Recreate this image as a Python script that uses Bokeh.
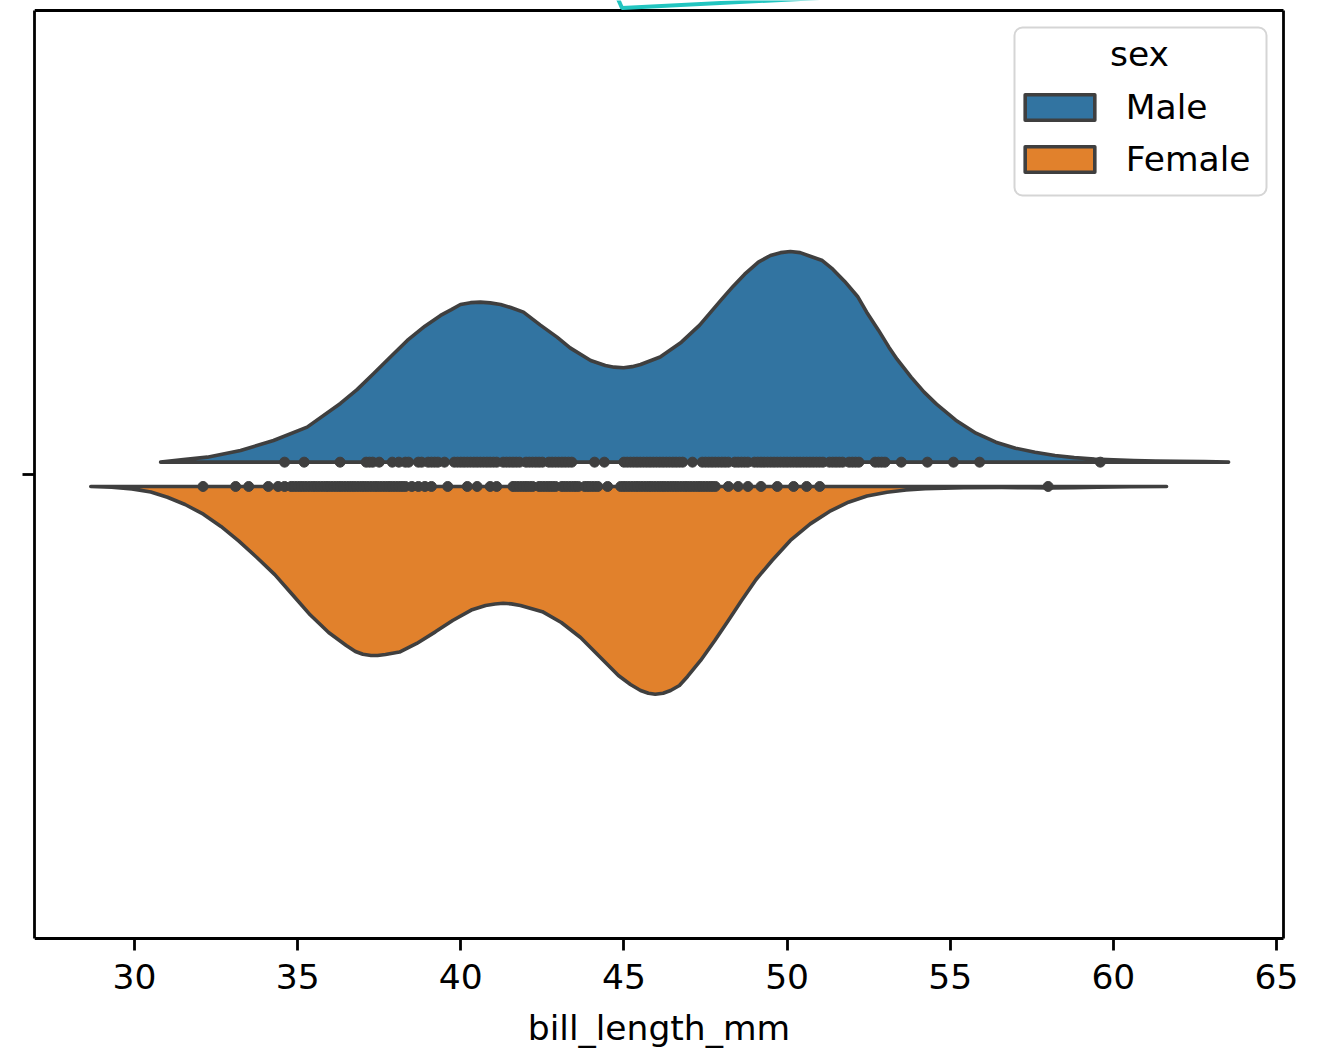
from bokeh.plotting import figure
from bokeh.models import (Range1d, FixedTicker, Legend, LegendItem, PolyAnnotation,
                          LinearAxis, BoxAnnotation, Label)
from bokeh.embed import file_html
from bokeh.resources import INLINE

# ---- data ----
categories = ["Male", "Female"]
legend_title = "sex"
x_label = "bill_length_mm"
x_ticks = [30, 35, 40, 45, 50, 55, 60, 65]
x_tick_labels = ["30", "35", "40", "45", "50", "55", "60", "65"]

# KDE outline of each half violin: positions (mm) and relative density (px-scaled)
male_kde_x = [30.80, 31.50, 32.23, 33.25, 34.26, 35.29, 36.31, 36.82, 37.33, 37.85,
              38.36, 38.90, 39.38, 39.71, 39.99, 40.30, 40.60, 40.90, 41.22, 41.53,
              41.92, 42.44, 42.95, 43.35, 43.98, 44.43, 44.70, 44.99, 45.25, 45.51,
              46.11, 46.76, 47.32, 47.66, 48.00, 48.35, 48.70, 49.12, 49.49, 49.80,
              50.10, 50.40, 50.73, 51.08, 51.40, 51.76, 52.16, 52.44, 52.80, 53.12,
              53.37, 53.80, 54.20, 54.58, 55.17, 55.79, 56.40, 57.00, 57.60, 58.21,
              58.80, 59.42, 60.00, 60.63, 61.30, 62.00, 62.80, 63.53]
male_kde_d = [0.0, 2.5, 5.0, 11.7, 21.7, 35.0, 58.7, 72.5, 88.7, 105.5,
              121.7, 136.0, 146.7, 152.5, 157.7, 159.5, 160.0, 159.3, 157.7, 154.6,
              150.0, 137.0, 125.0, 114.3, 101.7, 96.7, 95.0, 94.4, 95.5, 97.7,
              105.2, 120.0, 137.0, 150.0, 163.0, 176.0, 188.0, 200.0, 206.7, 209.5,
              210.7, 209.5, 205.7, 201.6, 193.0, 181.0, 165.7, 150.0, 132.0, 115.0,
              103.0, 85.0, 70.0, 58.0, 42.0, 29.0, 20.0, 14.0, 10.0, 6.7,
              4.5, 3.1, 2.3, 1.7, 1.2, 0.9, 0.5, 0.0]

female_kde_x = [28.66, 29.30, 29.92, 30.50, 31.01, 31.55, 32.11, 32.65, 33.20, 33.75,
                34.30, 34.85, 35.39, 35.95, 36.49, 36.77, 37.00, 37.25, 37.45, 37.69,
                38.12, 38.65, 39.22, 39.75, 40.32, 40.76, 41.05, 41.30, 41.55, 41.83,
                42.50, 43.08, 43.67, 44.25, 44.83, 45.20, 45.51, 45.75, 45.96, 46.20,
                46.43, 46.70, 46.95, 47.35, 47.78, 48.20, 48.60, 49.05, 49.54, 50.10,
                50.71, 51.30, 51.88, 52.45, 53.06, 53.65, 54.23, 55.41, 56.58, 57.40,
                58.10, 58.80, 59.51, 60.50, 61.63]
female_kde_d = [0.0, 0.8, 2.4, 5.5, 10.8, 18.0, 27.7, 40.0, 54.6, 71.0,
                88.2, 108.5, 128.6, 146.0, 159.0, 165.0, 167.8, 169.0, 169.0, 168.0,
                165.6, 157.0, 145.4, 134.0, 123.6, 119.0, 117.6, 116.8, 117.4, 119.0,
                125.2, 136.0, 151.0, 170.0, 189.0, 198.0, 204.0, 206.8, 207.8, 206.8,
                204.0, 199.0, 190.0, 174.0, 154.3, 134.0, 114.2, 93.0, 74.0, 54.0,
                37.4, 25.0, 15.7, 9.5, 5.7, 3.6, 2.3, 1.3, 1.0, 1.2,
                1.5, 1.2, 0.7, 0.3, 0.0]

# individual observations (inner="point")
male_obs = [34.6, 35.2, 36.3,
            37.1, 37.2, 37.3, 37.5, 37.9, 38.1, 38.3, 38.4, 38.7, 38.8, 39.0, 39.1,
            39.2, 39.3, 39.5, 39.8, 39.9, 40.0, 40.1, 40.2, 40.3, 40.4, 40.5, 40.6,
            40.7, 40.8, 40.9, 41.0, 41.1, 41.3, 41.4, 41.5, 41.6, 41.7, 41.8, 42.0,
            42.1, 42.2, 42.3, 42.4, 42.5, 42.7, 42.8, 42.9, 43.0, 43.1, 43.2, 43.3, 43.4,
            44.1, 44.4,
            45.0, 45.1, 45.2, 45.3, 45.4, 45.5, 45.6, 45.7, 45.8, 45.9, 46.0, 46.1,
            46.2, 46.3, 46.4, 46.5, 46.6, 46.7, 46.8,
            47.1,
            47.4, 47.5, 47.6, 47.7, 47.8, 47.9, 48.0, 48.1, 48.2, 48.4, 48.5, 48.6,
            48.7, 48.8, 49.0, 49.1, 49.2, 49.3, 49.4, 49.5, 49.6, 49.7, 49.8, 49.9,
            50.0, 50.1, 50.2, 50.3, 50.4, 50.5, 50.6, 50.7, 50.8, 50.9, 51.0, 51.1,
            51.3, 51.4, 51.5, 51.6, 51.7, 51.9, 52.0, 52.1, 52.2, 52.7, 52.8, 52.9, 53.0,
            53.5, 54.3, 55.1, 55.9, 59.6]
female_obs = [32.1, 33.1, 33.5, 34.1, 34.4, 34.6,
              34.8, 34.9, 35.0, 35.1, 35.2, 35.3, 35.4, 35.5, 35.6, 35.7, 35.8, 35.9,
              36.0, 36.1, 36.2, 36.3, 36.4, 36.5, 36.6, 36.7, 36.8, 36.9, 37.0, 37.1,
              37.2, 37.3, 37.4, 37.5, 37.6, 37.7, 37.8, 37.9, 38.0, 38.1, 38.2, 38.3, 38.5,
              38.7, 38.9, 39.1, 39.6, 40.2, 40.5, 40.9, 41.1,
              41.6, 41.7, 41.8, 41.9, 42.0, 42.1, 42.2, 42.4, 42.5, 42.6, 42.7, 42.8,
              42.9, 43.1, 43.2, 43.3, 43.4, 43.5, 43.6, 43.8, 43.9, 44.0, 44.1, 44.2,
              44.5,
              44.9, 45.0, 45.1, 45.2, 45.3, 45.4, 45.5, 45.6, 45.7, 45.8, 45.9, 46.0,
              46.1, 46.2, 46.3, 46.4, 46.5, 46.6, 46.7, 46.8, 46.9, 47.0, 47.1, 47.2,
              47.3, 47.4, 47.5, 47.6, 47.7, 47.8,
              48.2, 48.5, 48.8, 49.2, 49.7, 50.2, 50.6, 51.0, 58.0]

# ---- styling / layout ----
FONT = "DejaVu Sans"
FS = "34.5px"
EDGE = "#3f3f3f"
COLORS = {"Male": "#3274a1", "Female": "#e1812c"}
PX_Y = 1.0 / 928.0          # one pixel in category units
PX_X = 1.0 / 32.629         # one pixel in mm
D_SCALE = PX_Y              # density -> category units
MALE_OFF = 0.0133
FEMALE_OFF = -0.0129
CANVAS_W, CANVAS_H = 1330, 1051
LEFT_PX, RIGHT_PX, TOP_PX, BOTTOM_PX = 34, 1283, 10, 938   # axes box on the canvas
X_LEFT = 26.935
X_RIGHT = X_LEFT + (RIGHT_PX - LEFT_PX) * PX_X
# the plotting frame covers the canvas beyond the axes box, so that ticks,
# labels and the clipped stroke at the top are not cut off
Y0 = -0.5 - (CANVAS_H - BOTTOM_PX) * PX_Y
Y1 = 0.5 + TOP_PX * PX_Y
X1 = X_LEFT + (CANVAS_W - LEFT_PX) * PX_X

p = figure(width=CANVAS_W, height=CANVAS_H,
           x_range=Range1d(X_LEFT, X1), y_range=Range1d(Y0, Y1),
           output_backend="svg", toolbar_location=None,
           min_border_left=LEFT_PX, min_border_right=0, min_border_top=0, min_border_bottom=0)
p.background_fill_color = "white"
p.border_fill_color = "white"
p.outline_line_color = None
p.xgrid.visible = False
p.ygrid.visible = False

# male half (above its center line)
mx = male_kde_x + male_kde_x[::-1]
my = [MALE_OFF + d * D_SCALE for d in male_kde_d] + [MALE_OFF] * len(male_kde_x)
r_male = p.patch(mx, my, fill_color=COLORS["Male"], line_color=EDGE, line_width=3.6,
                 line_join="round")

# female half (below its center line)
fx = female_kde_x + female_kde_x[::-1]
fy = [FEMALE_OFF - d * D_SCALE for d in female_kde_d] + [FEMALE_OFF] * len(female_kde_x)
r_female = p.patch(fx, fy, fill_color=COLORS["Female"], line_color=EDGE, line_width=3.6,
                   line_join="round")

p.scatter(male_obs, [MALE_OFF] * len(male_obs), size=10, color=EDGE)
p.scatter(female_obs, [FEMALE_OFF] * len(female_obs), size=10, color=EDGE)

# axes / spines
xa = p.xaxis[0]
ya = p.yaxis[0]
xa.ticker = FixedTicker(ticks=x_ticks)
xa.major_label_overrides = {t: l for t, l in zip(x_ticks, x_tick_labels)}
xa.axis_label = x_label
xa.fixed_location = -0.5
xa.bounds = (X_LEFT, X_RIGHT)
ya.ticker = FixedTicker(ticks=[0])
ya.major_label_overrides = {0: ""}
ya.bounds = (-0.5, 0.5)
for ax in (xa, ya):
    ax.axis_line_color = "black"
    ax.axis_line_width = 2.8
    ax.major_tick_line_width = 2.8
    ax.major_tick_line_color = "black"
    ax.major_tick_out = 12
    ax.major_tick_in = 0
    ax.minor_tick_line_color = None
    ax.major_label_text_font = FONT
    ax.major_label_text_font_size = FS
    ax.major_label_text_color = "black"
    ax.axis_label_text_font = FONT
    ax.axis_label_text_font_size = FS
    ax.axis_label_text_font_style = "normal"
    ax.axis_label_text_color = "black"
xa.major_label_standoff = 13
xa.axis_label_standoff = 16
ya.major_label_standoff = 0

right_spine = LinearAxis(ticker=FixedTicker(ticks=[]), bounds=(-0.5, 0.5),
                         fixed_location=X_RIGHT,
                         axis_line_color="black", axis_line_width=2.8,
                         major_tick_line_color=None, minor_tick_line_color=None,
                         major_label_text_font_size="0px", major_label_standoff=0)
p.add_layout(right_spine, "right")
top_spine = LinearAxis(ticker=FixedTicker(ticks=[]), bounds=(X_LEFT, X_RIGHT),
                       fixed_location=0.5,
                       axis_line_color="black", axis_line_width=2.8,
                       major_tick_line_color=None, minor_tick_line_color=None,
                       major_label_text_font_size="0px", major_label_standoff=0)
p.add_layout(top_spine, "above")

# legend frame, title and entries (screen px measured up from the canvas bottom)
LB = CANVAS_H - BOTTOM_PX
p.add_layout(BoxAnnotation(left=980, right=1232, top=911 + LB, bottom=743 + LB,
                           left_units="screen", right_units="screen",
                           top_units="screen", bottom_units="screen",
                           fill_color="white", fill_alpha=0.8,
                           line_color="#d5d5d5", line_alpha=1.0, line_width=2,
                           border_radius=8))
p.add_layout(Label(x=1105, y=BOTTOM_PX - 53 + LB, x_units="screen", y_units="screen",
                   text=legend_title, text_font=FONT, text_font_size=FS,
                   text_color="black", text_align="center", text_baseline="alphabetic"))
legend = Legend(items=[LegendItem(label=categories[0], renderers=[r_male]),
                       LegendItem(label=categories[1], renderers=[r_female])],
                location=(981.8, 759.5 + LB))
legend.padding = 10
legend.spacing = 12
legend.glyph_width = 87
legend.glyph_height = 32
legend.label_standoff = 23
legend.label_text_font = FONT
legend.label_text_font_size = FS
legend.label_text_color = "black"
legend.border_line_color = None
legend.background_fill_alpha = 0
p.add_layout(legend, "center")

# teal stroke clipped at the top edge of the picture
p.add_layout(PolyAnnotation(xs=[582, 587.5, 835],
                            ys=[CANVAS_H + 5, CANVAS_H - 7.5, CANVAS_H + 5],
                            xs_units="screen", ys_units="screen",
                            fill_alpha=0, line_color="#22c5c0", line_alpha=1.0, line_width=4))

open("out.html", "w").write(file_html(p, INLINE))
